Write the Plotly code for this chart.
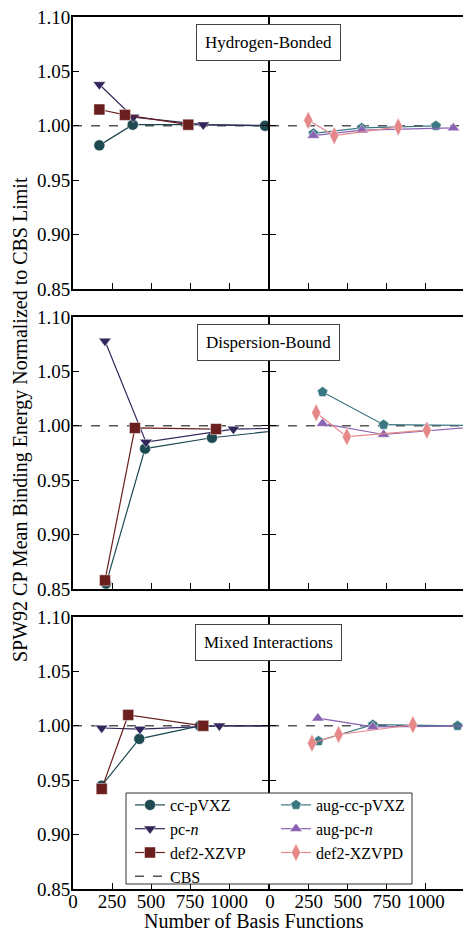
import plotly.graph_objects as go

# ---------------- data ----------------
panels = ["Hydrogen-Bonded", "Dispersion-Bound", "Mixed Interactions"]

# left column (non-augmented)
cc_x = [[169, 383, 739, 1231], [212, 462, 891, 1600], [184, 425, 814, 1500]]
cc_y = [[0.982, 1.001, 1.001, 1.000], [0.855, 0.979, 0.989, 1.000], [0.945, 0.988, 1.000, 1.000]]
pc_x = [[169, 387, 835, 1500], [205, 468, 1028, 1700], [184, 429, 938, 1600]]
pc_y = [[1.038, 1.008, 1.001, 1.000], [1.078, 0.985, 0.997, 0.999], [0.998, 0.997, 1.000, 1.000]]
d2_x = [[169, 333, 739], [205, 397, 917], [184, 354, 835]]
d2_y = [[1.015, 1.010, 1.001], [0.858, 0.998, 0.997], [0.942, 1.010, 1.000]]

# right column (augmented)
acc_x = [[279, 589, 1066], [338, 730, 1500], [312, 661, 1205]]
acc_y = [[0.993, 0.998, 1.000], [1.031, 1.001, 1.000], [0.986, 1.001, 1.000]]
apc_x = [[279, 591, 1178], [338, 730, 1400], [308, 661, 1400]]
apc_y = [[0.991, 0.996, 0.998], [1.002, 0.992, 1.000], [1.007, 0.999, 1.000]]
d2pd_x = [[246, 413, 824], [297, 494, 1008], [270, 441, 918]]
d2pd_y = [[1.005, 0.991, 0.999], [1.012, 0.990, 0.996], [0.984, 0.992, 1.001]]

cbs_value = 1.0
x_ticks = [0, 250, 500, 750, 1000]
y_ticks = [0.85, 0.90, 0.95, 1.00, 1.05, 1.10]

# ---------------- style ----------------
FONT = "Liberation Serif"
W, H = 463, 934
ML, MR, MT, MB = 73, 0, 17, 45
PW, PH = W - ML - MR, H - MT - MB
col_dom = [[0.0, 0.5], [0.505, 1.0]]
row_dom = [[0.6881, 1.0], [0.3440, 0.6560], [0.0, 0.3119]]
x_rng = [[0, 1250], [0, 1240]]


def px_x(p):
    return (p - ML) / PW


def px_y(p):
    return (H - MB - p) / PH


series_left = [
    ("cc-pVXZ", cc_x, cc_y, "#1d4950", "circle", 1),
    ("pc-<i>n</i>", pc_x, pc_y, "#33265a", "triangle-down", 2),
    ("def2-XZVP", d2_x, d2_y, "#6a1e1e", "square", 3),
]
series_right = [
    ("aug-cc-pVXZ", acc_x, acc_y, "#3c7883", "pentagon", 1),
    ("aug-pc-<i>n</i>", apc_x, apc_y, "#8a62b3", "triangle-up", 2),
    ("def2-XZVPD", d2pd_x, d2pd_y, "#e6888a", "diamond-tall", 3),
]

fig = go.Figure()
layout = {}
annotations = []

for r in range(3):
    for c in range(2):
        idx = r * 2 + c + 1
        xa = "x" if idx == 1 else f"x{idx}"
        ya = "y" if idx == 1 else f"y{idx}"
        xkey = "xaxis" if idx == 1 else f"xaxis{idx}"
        ykey = "yaxis" if idx == 1 else f"yaxis{idx}"
        layout[xkey] = dict(
            domain=col_dom[c], range=x_rng[c], anchor=ya,
            showline=True, linecolor="black", linewidth=2, mirror=True,
            ticks="inside", ticklen=6, tickwidth=1, tickcolor="black",
            tickvals=x_ticks, showticklabels=(r == 2), ticklabelstandoff=-6,
            showgrid=False, zeroline=False,
            tickfont=dict(family=FONT, size=19, color="black"),
        )
        layout[ykey] = dict(
            domain=row_dom[r], range=[0.85, 1.10], anchor=xa,
            showline=True, linecolor="black", linewidth=2,
            mirror=("ticks" if c == 0 else False),
            ticks="inside", ticklen=6, tickwidth=1, tickcolor="black",
            tickvals=y_ticks, tickformat=".2f", showticklabels=(c == 0),
            showgrid=False, zeroline=False, ticklabelstandoff=-3,
            tickfont=dict(family=FONT, size=19, color="black"),
        )
        # CBS reference line
        fig.add_trace(go.Scatter(
            x=[x_rng[c][0], x_rng[c][1]], y=[cbs_value, cbs_value], mode="lines",
            line=dict(color="#555555", width=1.5, dash="dash"),
            name="CBS", legendgroup="CBS", legendrank=4, legend="legend",
            showlegend=(idx == 1), xaxis=xa, yaxis=ya, hoverinfo="skip"))
        series = series_left if c == 0 else series_right
        for name, xs, ys, col, sym, rank in series:
            fig.add_trace(go.Scatter(
                x=xs[r], y=ys[r], mode="lines+markers", name=name,
                legendgroup=name, legendrank=rank, showlegend=(r == 0),
                legend=("legend" if c == 0 else "legend2"),
                line=dict(color=col, width=1.2),
                marker=dict(symbol=sym, size=11 if sym != "diamond-tall" else 13,
                            color=col, line=dict(color="rgba(255,255,255,0.6)", width=0.8)),
                xaxis=xa, yaxis=ya))
    # panel label box
    annotations.append(dict(
        text=panels[r], xref="paper", x=0.5, xanchor="center",
        yref=("y domain" if r == 0 else f"y{r*2+1} domain"), y=1 - 25.5 / 272, yanchor="middle",
        showarrow=False, font=dict(family=FONT, size=17, color="black"),
        bgcolor="white", bordercolor="#444444", borderwidth=1, borderpad=8))

annotations.append(dict(
    text="Number of Basis Functions", xref="paper", x=px_x(253.5), xanchor="center",
    yref="paper", y=0, yanchor="bottom", yshift=-MB, showarrow=False,
    font=dict(family=FONT, size=20, color="black")))
annotations.append(dict(
    text="SPW92 CP Mean Binding Energy Normalized to CBS Limit", xref="paper",
    x=0, xshift=-ML + 20, xanchor="center", yref="paper", y=px_y(420), yanchor="middle",
    textangle=-90, showarrow=False, font=dict(family=FONT, size=20, color="black")))

legend_common = dict(
    orientation="v", yanchor="top", xanchor="left",
    font=dict(family=FONT, size=16, color="black"),
    bgcolor="rgba(0,0,0,0)", borderwidth=0, itemwidth=30,
    traceorder="normal", tracegroupgap=0,
)

fig.update_layout(
    **layout,
    width=W, height=H,
    margin=dict(l=ML, r=MR, t=MT, b=MB, autoexpand=False),
    paper_bgcolor="white", plot_bgcolor="white",
    font=dict(family=FONT, color="black"),
    annotations=annotations,
    showlegend=True,
    legend=dict(x=px_x(130), y=px_y(788), **legend_common),
    legend2=dict(x=px_x(276), y=px_y(788), **legend_common),
    shapes=[dict(
        type="rect", xref="paper", yref="paper", layer="above",
        x0=px_x(126), x1=px_x(412), y0=px_y(884), y1=px_y(793),
        fillcolor="white", line=dict(color="#333333", width=1))],
)

fig.write_html("out.html")
